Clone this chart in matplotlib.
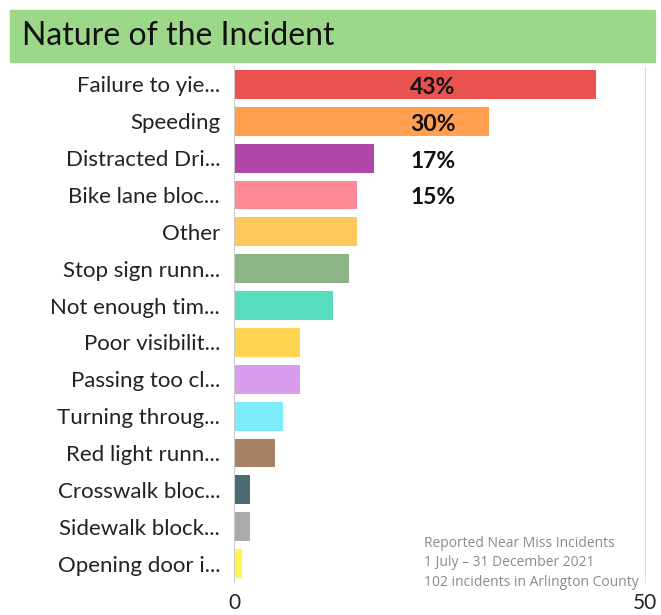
import matplotlib.pyplot as plt
from matplotlib.patches import Rectangle

plt.rcParams["font.family"] = ["Lato", "DejaVu Sans"]

# Data
categories = ["Failure to yie...", "Speeding", "Distracted Dri...", "Bike lane bloc...",
              "Other", "Stop sign runn...", "Not enough tim...", "Poor visibilit...",
              "Passing too cl...", "Turning throug...", "Red light runn...",
              "Crosswalk bloc...", "Sidewalk block...", "Opening door i..."]
counts = [44, 31, 17, 15, 15, 14, 12, 8, 8, 6, 5, 2, 2, 1]
colors = ["#E8524F", "#FF9F4F", "#B145A8", "#FF8A95", "#FFC85C", "#8DB487", "#56DDBE",
          "#FFD451", "#D79CED", "#7EEBFC", "#A68163", "#4D6A73", "#AAAAAA", "#FFF350"]
pct_labels = ["43%", "30%", "17%", "15%"]
xticks = [0, 50]
title = "Nature of the Incident"
note = ["Reported Near Miss Incidents", "1 July \u2013 31 December 2021",
        "102 incidents in Arlington County"]

fig = plt.figure(figsize=(6.61, 6.15), dpi=100)

# green title banner
fig.patches.append(Rectangle((10 / 661, 1 - 62 / 615), 645 / 661, 52 / 615,
                             transform=fig.transFigure, color="#9DD88A", zorder=0))
fig.text(22 / 661, 1 - 36 / 615, title, fontsize=23, va="center", ha="left", color="#111111")

ax = fig.add_axes([234 / 661, 33 / 615, 411 / 661, 516 / 615])
ypos = list(range(len(categories)))
ax.barh(ypos, counts, height=0.78, color=colors)
ax.set_ylim(len(categories) - 0.5, -0.5)
ax.set_xlim(0, 50)

for i, lab in enumerate(pct_labels):
    ax.text(24.2, i + 0.08, lab, ha="center", va="center", fontsize=16.5,
            fontweight="bold", color="#111111")

ax.set_yticks(ypos)
ax.set_yticklabels(categories, fontsize=16, color="#222222")
ax.set_xticks(xticks)
ax.set_xticklabels([str(t) for t in xticks], fontsize=15, color="#222222")
ax.tick_params(length=0)
ax.tick_params(axis="y", pad=10)
ax.tick_params(axis="x", pad=8)

for s in ["top", "bottom"]:
    ax.spines[s].set_visible(False)
ax.spines["left"].set_color("#CCCCCC")
ax.spines["right"].set_color("#DDDDDD")

for k, line in enumerate(note):
    ax.text(23.1, 12.45 + k * 0.53, line, fontsize=10, color="#8A8A8A",
            ha="left", va="center", family=["Open Sans", "DejaVu Sans"])

fig.savefig("out.png", dpi=100)
